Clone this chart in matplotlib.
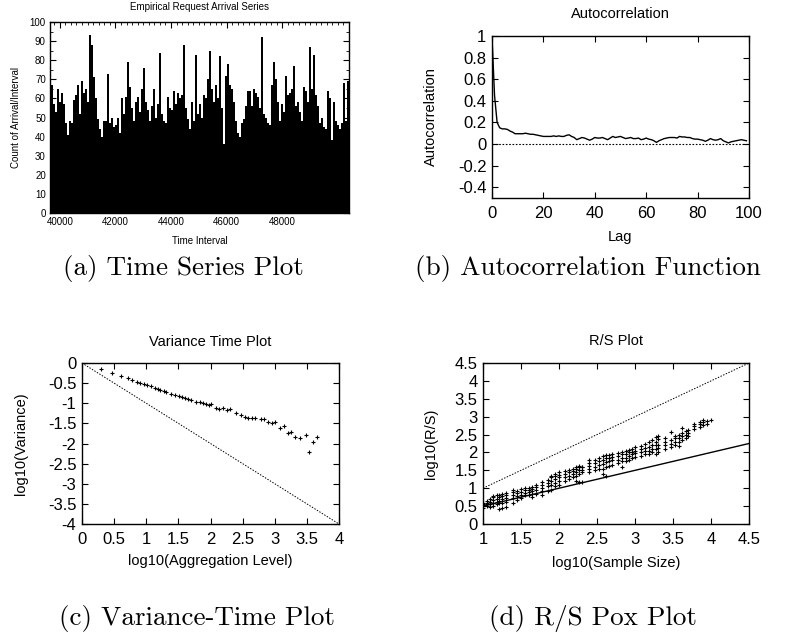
"""
Four-panel self-similarity summary of a request arrival trace:
time series, autocorrelation, variance-time and R/S pox plots.
"""
import numpy as np
import matplotlib
matplotlib.use('Agg')
import matplotlib.pyplot as plt
from matplotlib.ticker import AutoMinorLocator

plt.rcParams['font.family'] = ['Liberation Sans', 'DejaVu Sans']
plt.rcParams['axes.unicode_minus'] = False

# (a) arrivals per interval: peak count in each bin of 72 intervals
interval_start = 39680
bin_width = 72
arrivals = [67, 57, 53, 65, 58, 63, 57, 47, 41, 48, 47, 59, 62, 67, 52, 69, 63, 65, 58, 93,
            88, 71, 60, 49, 44, 40, 48, 48, 73, 47, 50, 45, 46, 50, 42, 60, 52, 61, 79, 66,
            55, 48, 58, 61, 53, 65, 76, 58, 54, 48, 56, 65, 50, 57, 84, 52, 48, 47, 61, 55,
            54, 64, 57, 63, 60, 62, 88, 55, 49, 44, 58, 48, 83, 52, 57, 50, 62, 60, 70, 85,
            65, 58, 67, 60, 82, 55, 36, 72, 78, 67, 65, 58, 48, 42, 40, 47, 49, 56, 64, 64,
            56, 65, 63, 61, 55, 92, 52, 50, 47, 46, 67, 79, 70, 58, 48, 57, 53, 72, 62, 63,
            65, 77, 56, 58, 53, 48, 66, 64, 58, 87, 65, 83, 62, 56, 47, 50, 45, 44, 64, 60,
            38, 58, 48, 46, 44, 47, 68, 48, 69, 59]

# (b) sample autocorrelation for lags 0..99
acf = [1.0, 0.45, 0.2, 0.15, 0.14, 0.14, 0.135, 0.12, 0.11, 0.095,
       0.095, 0.095, 0.095, 0.1, 0.095, 0.09, 0.09, 0.085, 0.08, 0.075,
       0.07, 0.07, 0.07, 0.07, 0.075, 0.07, 0.075, 0.07, 0.07, 0.08,
       0.085, 0.07, 0.06, 0.04, 0.05, 0.06, 0.055, 0.045, 0.035, 0.045,
       0.06, 0.055, 0.055, 0.06, 0.05, 0.04, 0.055, 0.07, 0.06, 0.065,
       0.07, 0.06, 0.05, 0.055, 0.06, 0.05, 0.05, 0.055, 0.04, 0.045,
       0.055, 0.045, 0.04, 0.03, 0.015, 0.03, 0.04, 0.05, 0.055, 0.06,
       0.06, 0.06, 0.055, 0.07, 0.065, 0.065, 0.06, 0.06, 0.05, 0.045,
       0.045, 0.04, 0.035, 0.025, 0.035, 0.05, 0.04, 0.035, 0.04, 0.05,
       0.03, 0.02, 0.01, 0.02, 0.025, 0.03, 0.035, 0.04, 0.035, 0.03]

# (c) variance-time points
vt_logm = [0.30, 0.47, 0.60, 0.71, 0.78, 0.85, 0.91, 0.96, 1.01, 1.08, 1.13, 1.18, 1.22,
           1.27, 1.31, 1.39, 1.45, 1.51, 1.56, 1.61, 1.65, 1.69, 1.77, 1.83, 1.88, 1.93,
           1.98, 2.01, 2.08, 2.13, 2.19, 2.25, 2.30, 2.40, 2.47, 2.53, 2.58, 2.64, 2.69,
           2.78, 2.83, 2.90, 2.95, 3.00, 3.08, 3.14, 3.20, 3.25, 3.31, 3.40, 3.48, 3.54,
           3.60, 3.66]
vt_logvar = [-0.15, -0.25, -0.32, -0.38, -0.42, -0.46, -0.49, -0.52, -0.55, -0.58, -0.61,
             -0.64, -0.67, -0.70, -0.71, -0.76, -0.80, -0.83, -0.85, -0.88, -0.90, -0.92,
             -0.96, -0.97, -1.00, -1.02, -1.05, -1.03, -1.11, -1.13, -1.11, -1.16, -1.15,
             -1.24, -1.28, -1.33, -1.36, -1.37, -1.37, -1.39, -1.38, -1.46, -1.48, -1.46,
             -1.61, -1.57, -1.74, -1.72, -1.85, -1.87, -1.79, -2.22, -1.97, -1.85]
vt_ref_x = [0, 4]
vt_ref_y = [0, -4]

# (d) R/S pox points, grouped by sample size
rs_logn = [1.00, 1.05, 1.09, 1.13, 1.18, 1.21, 1.25, 1.30, 1.40, 1.45, 1.50, 1.55, 1.60,
           1.65, 1.70, 1.78, 1.85, 1.90, 1.95, 2.00, 2.08, 2.13, 2.18, 2.22, 2.26, 2.30,
           2.40, 2.48, 2.53, 2.58, 2.62, 2.66, 2.70, 2.78, 2.83, 2.88, 2.92, 2.96, 3.00,
           3.08, 3.13, 3.18, 3.23, 3.27, 3.30, 3.40, 3.48, 3.53, 3.58, 3.62, 3.67, 3.70,
           3.78, 3.85, 3.90, 3.95, 4.00]
rs_logrs = [[0.45, 0.5, 0.53, 0.57, 0.6], [0.5, 0.55, 0.6, 0.63], [0.48, 0.55, 0.62, 0.7],
            [0.5, 0.6, 0.68, 0.75, 0.78], [0.55, 0.62, 0.7, 0.8], [0.43, 0.58, 0.65, 0.75, 0.82],
            [0.45, 0.6, 0.7, 0.78, 0.85], [0.48, 0.62, 0.72, 0.8, 0.86], [0.6, 0.72, 0.8, 0.9, 0.95],
            [0.68, 0.78, 0.86, 0.93], [0.73, 0.82, 0.9, 0.97], [0.8, 0.88, 0.95, 1.0],
            [0.82, 0.9, 0.95, 1.02], [0.75, 0.85, 0.92, 0.98, 1.04], [0.85, 0.95, 1.03, 1.08],
            [0.8, 0.93, 1.0, 1.1, 1.17], [0.92, 1.05, 1.15, 1.22], [0.95, 1.1, 1.2, 1.3, 1.35],
            [1.05, 1.15, 1.25, 1.35, 1.4], [1.08, 1.2, 1.3, 1.38, 1.45], [1.2, 1.3, 1.4, 1.48],
            [1.25, 1.35, 1.45, 1.5], [1.3, 1.4, 1.48, 1.55], [1.2, 1.35, 1.45, 1.55, 1.6],
            [1.18, 1.4, 1.5, 1.58, 1.62], [1.17, 1.45, 1.5, 1.58, 1.6], [1.45, 1.55, 1.62, 1.7, 1.8],
            [1.5, 1.6, 1.7, 1.78], [1.55, 1.65, 1.75, 1.85], [1.4, 1.55, 1.68, 1.8, 1.9],
            [1.35, 1.6, 1.72, 1.85, 1.92], [1.62, 1.75, 1.85, 1.92], [1.65, 1.78, 1.88, 1.95],
            [1.7, 1.8, 1.9, 1.98], [1.6, 1.75, 1.85, 1.95, 2.02], [1.75, 1.85, 1.95, 2.05],
            [1.8, 1.9, 2.0, 2.08], [1.85, 1.95, 2.02, 2.1], [1.88, 1.98, 2.05, 2.15],
            [1.9, 2.0, 2.1, 2.18], [1.95, 2.05, 2.12, 2.25], [1.97, 2.05, 2.15, 2.28],
            [2.0, 2.1, 2.2, 2.35], [1.95, 2.1, 2.2, 2.3, 2.42], [2.0, 2.12, 2.22, 2.38, 2.45],
            [2.1, 2.2, 2.3, 2.4], [2.15, 2.25, 2.35, 2.58], [2.2, 2.3, 2.4, 2.45],
            [2.18, 2.3, 2.4, 2.5], [2.35, 2.45, 2.55, 2.68], [2.4, 2.5, 2.6], [2.45, 2.55, 2.62],
            [2.65, 2.75, 2.8], [2.72, 2.8, 2.85], [2.78, 2.85, 2.9], [2.8, 2.88], [2.9]]
rs_ref_x = [1, 4.5]
rs_upper_y = [1, 4.5]     # slope 1
rs_lower_y = [0.5, 2.25]  # slope 1/2

captions = ['(a) Time Series Plot', '(b) Autocorrelation Function',
            '(c) Variance-Time Plot', '(d) R/S Pox Plot']


def gnuplot_frame(ax, size, minor=False, xpad=6, ypad=4):
    ax.tick_params(direction='in', top=True, right=True, labelsize=size,
                   length=4, width=0.8)
    ax.tick_params(axis='x', pad=xpad)
    ax.tick_params(axis='y', pad=ypad)
    if minor:
        ax.xaxis.set_minor_locator(AutoMinorLocator(10))
        ax.yaxis.set_minor_locator(AutoMinorLocator(2))
        ax.tick_params(which='minor', direction='in', top=True, right=True, length=2)
    for s in ax.spines.values():
        s.set_linewidth(1.0)


def place_labels(ax, title, xlabel, ylabel, size, title_y, xlabel_y, ylabel_x):
    # gnuplot puts title and labels at fixed offsets from the frame
    ax.text(0.5, title_y, title, transform=ax.transAxes, ha='center', va='center',
            fontsize=size)
    ax.set_xlabel(xlabel, fontsize=size)
    ax.set_ylabel(ylabel, fontsize=size)
    ax.xaxis.set_label_coords(0.5, xlabel_y)
    ax.yaxis.set_label_coords(ylabel_x, 0.5)


fig = plt.figure(figsize=(7.94, 6.36), dpi=100)

# (a) time series
ax = fig.add_axes([0.063, 0.665, 0.3766, 0.3003])
t = interval_start + bin_width * np.arange(len(arrivals))
ax.bar(t, arrivals, width=bin_width, align='edge', color='black', linewidth=0)
ax.set_xlim(39650, 50400)
ax.set_ylim(0, 100)
ax.set_xticks([40000, 42000, 44000, 46000, 48000])
ax.set_yticks(range(0, 101, 10))
gnuplot_frame(ax, 7, minor=True, xpad=3, ypad=3)
place_labels(ax, 'Empirical Request Arrival Series', 'Time Interval',
             'Count of Arrival/Interval', 7, 1.079, -0.12, -0.097)

# (b) autocorrelation
ax = fig.add_axes([0.6196, 0.6887, 0.3237, 0.2547])
ax.plot(range(len(acf)), acf, color='black', lw=1)
ax.axhline(0, color='black', lw=0.8, ls=(0, (1.5, 1.5)))
ax.set_xlim(0, 100)
ax.set_ylim(-0.5, 1)
ax.set_xticks(range(0, 101, 20))
ax.set_yticks([-0.4, -0.2, 0, 0.2, 0.4, 0.6, 0.8, 1])
ax.set_yticklabels(['-0.4', '-0.2', '0', '0.2', '0.4', '0.6', '0.8', '1'])
gnuplot_frame(ax, 12)
place_labels(ax, 'Autocorrelation', 'Lag', 'Autocorrelation', 10.5,
             1 + 22 / 162, -0.198, -0.21)

# (c) variance-time
ax = fig.add_axes([0.1033, 0.1761, 0.3237, 0.2531])
ax.plot(vt_ref_x, vt_ref_y, color='black', lw=0.7, ls=(0, (1.5, 1.5)))
ax.scatter(vt_logm, vt_logvar, marker='+', s=10, color='black', linewidths=0.8)
ax.set_xlim(0, 4)
ax.set_ylim(-4, 0)
ax.set_xticks(np.arange(0, 4.01, 0.5))
ax.set_xticklabels(['0', '0.5', '1', '1.5', '2', '2.5', '3', '3.5', '4'])
ax.set_yticks(np.arange(-4, 0.01, 0.5))
ax.set_yticklabels(['-4', '-3.5', '-3', '-2.5', '-2', '-1.5', '-1', '-0.5', '0'])
gnuplot_frame(ax, 12)
place_labels(ax, 'Variance Time Plot', 'log10(Aggregation Level)', 'log10(Variance)',
             10.5, 1 + 21 / 161, -0.186, -0.21)

# (d) R/S pox plot
ax = fig.add_axes([0.6083, 0.1761, 0.335, 0.2531])
ax.plot(rs_ref_x, rs_upper_y, color='black', lw=0.7, ls=(0, (1.5, 1.5)))
ax.plot(rs_ref_x, rs_lower_y, color='black', lw=1)
for x, ys in zip(rs_logn, rs_logrs):
    ax.scatter([x] * len(ys), ys, marker='+', s=10, color='black', linewidths=0.8)
ax.set_xlim(1, 4.5)
ax.set_ylim(0, 4.5)
ax.set_xticks(np.arange(1, 4.51, 0.5))
ax.set_xticklabels(['1', '1.5', '2', '2.5', '3', '3.5', '4', '4.5'])
ax.set_yticks(np.arange(0, 4.51, 0.5))
ax.set_yticklabels(['0', '0.5', '1', '1.5', '2', '2.5', '3', '3.5', '4', '4.5'])
gnuplot_frame(ax, 12)
place_labels(ax, 'R/S Plot', 'log10(Sample Size)', 'log10(R/S)', 10.5,
             1 + 22 / 161, -0.199, -0.169)

# sub-figure captions
for (x, y), text in zip([(183, 268), (588, 268), (197, 618), (593, 618)], captions):
    fig.text(x / 794, 1 - y / 636, text, ha='center', va='center',
             family='cmr10', fontsize=19.5)

fig.savefig('out.png', dpi=100)
